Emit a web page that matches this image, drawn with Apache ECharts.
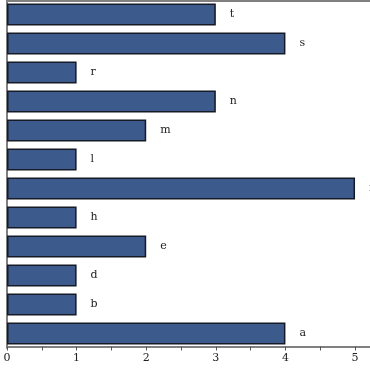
<!DOCTYPE html>
<html><head><meta charset="utf-8">
<script src="https://cdn.jsdelivr.net/npm/echarts@6/dist/echarts.min.js"></script>
<style>html,body{margin:0;padding:0;background:#fff}#c{width:370px;height:370px}</style>
</head><body><div id="c"></div>
<script>
var categories = ['a','b','d','e','h','i','l','m','n','r','s','t'];
var values = [4,1,1,2,1,5,1,2,3,1,4,3];
var xTicks = [0,1,2,3,4,5];
var xMax = 5.215;

var chart = echarts.init(document.getElementById('c'), null, {renderer:'canvas'});
var font = 'DejaVu Serif';
chart.setOption({
  animation:false,
  grid:{left:7, right:0, top:0, bottom:22, containLabel:false},
  xAxis:[{type:'value', min:0, max:xMax, interval:1, offset:-1.5,
    axisLine:{show:true, lineStyle:{color:'#808080', width:2}},
    axisTick:{show:true, length:4, lineStyle:{color:'#555'}},
    minorTick:{show:true, splitNumber:2, length:4, lineStyle:{color:'#555'}},
    splitLine:{show:false},
    axisLabel:{fontFamily:font, fontSize:11, color:'#222', margin:6, showMaxLabel:false,
      formatter:function(v){return xTicks.indexOf(v)>=0?String(v):'';}}
  },{type:'value', position:'top', min:0, max:xMax, offset:-0.5,
    axisLine:{show:true, lineStyle:{color:'#808080', width:2}},
    axisTick:{show:false}, axisLabel:{show:false}, splitLine:{show:false}}],
  yAxis:{type:'category', data:categories,
    axisLine:{show:true, lineStyle:{color:'#808080', width:2}},
    axisTick:{show:false}, axisLabel:{show:false}},
  series:[{type:'bar', data:values, barWidth:22,
    itemStyle:{color:'#3d5a8c', borderColor:'#151a26', borderWidth:1.5},
    label:{show:true, position:'right', distance:14, fontFamily:font, fontSize:11, color:'#222',
      formatter:function(p){return p.name;}}
  }]
});
</script></body></html>
